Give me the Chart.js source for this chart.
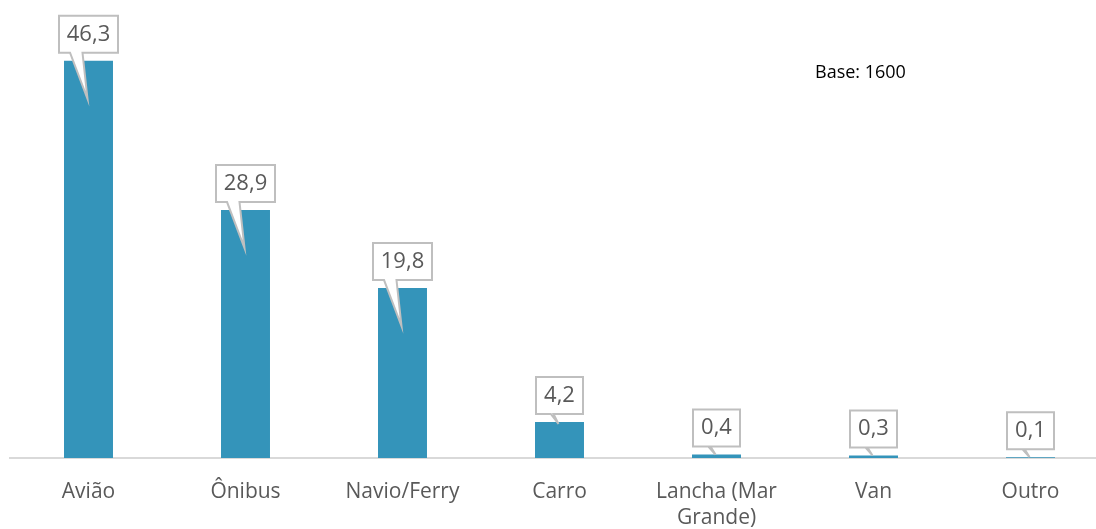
<!DOCTYPE html>
<html>
<head>
<meta charset="utf-8">
<script src="https://cdn.jsdelivr.net/npm/chart.js@4/dist/chart.umd.min.js"></script>
<style>
    body { margin: 0; overflow: hidden; background: #fff; }
    #wrap { position: relative; width: 1110px; height: 529px; }
    #base-note {
        position: absolute; left: 815px; top: 59px;
        font-family: "Open Sans", sans-serif; font-size: 18px; color: #000;
    }
</style>
</head>
<body>
<div id="wrap">
    <canvas id="transport-chart" width="1110" height="529"></canvas>
    <div id="base-note">Base: 1600</div>
</div>
<script>
const categories = ["Avião", "Ônibus", "Navio/Ferry", "Carro", ["Lancha (Mar", "Grande)"], "Van", "Outro"];
const percentages = [46.3, 28.9, 19.8, 4.2, 0.4, 0.3, 0.1];

const barColor = "#3494BA";
const textColor = "#595959";

function formatValue(v) {
    return v.toFixed(1).replace(".", ",");
}

// draws the excel-like callout boxes above each bar
const calloutPlugin = {
    id: "callouts",
    afterDatasetsDraw(chart) {
        const ctx = chart.ctx;
        const meta = chart.getDatasetMeta(0);
        ctx.save();
        ctx.font = "22px 'Open Sans', sans-serif";
        meta.data.forEach((bar, i) => {
            const text = formatValue(percentages[i]);
            const w = Math.round(ctx.measureText(text).width + 16);
            const h = 37;
            const x = bar.x;
            const top = bar.y;
            const bottom = top - 8;
            const left = x - w / 2;
            const right = x + w / 2;
            const depth = Math.min(38, Math.max(0, (bar.base - top) - 34));
            const tipY = top + depth;
            const len = tipY - bottom;
            const tailLeft = x - 6 - 13 * len / 48;

            ctx.beginPath();
            ctx.moveTo(left, bottom - h);
            ctx.lineTo(right, bottom - h);
            ctx.lineTo(right, bottom);
            ctx.lineTo(x - 6, bottom);
            ctx.lineTo(x - 1, tipY);
            ctx.lineTo(tailLeft, bottom);
            ctx.lineTo(left, bottom);
            ctx.closePath();
            ctx.fillStyle = "#ffffff";
            ctx.fill();
            ctx.lineWidth = 2;
            ctx.strokeStyle = "#bfbfbf";
            ctx.stroke();

            ctx.fillStyle = textColor;
            ctx.textAlign = "center";
            ctx.textBaseline = "middle";
            ctx.fillText(text, x, bottom - h / 2);
        });
        ctx.restore();
    }
};

new Chart(document.getElementById("transport-chart"), {
    type: "bar",
    data: {
        labels: categories,
        datasets: [{
            data: percentages,
            backgroundColor: barColor,
            categoryPercentage: 1,
            barPercentage: 0.312
        }]
    },
    options: {
        responsive: false,
        animation: false,
        layout: { padding: { top: 29, left: 10, right: 1, bottom: 0 } },
        plugins: {
            legend: { display: false },
            tooltip: { enabled: false }
        },
        scales: {
            x: {
                grid: { display: false },
                border: { display: true, color: "#d9d9d9", width: 2 },
                afterFit(scale) {
                    scale.height = 71;
                },
                ticks: {
                    color: textColor,
                    padding: 13,
                    maxRotation: 0,
                    autoSkip: false,
                    font: { family: "'Open Sans', sans-serif", size: 21, lineHeight: 1.25 }
                }
            },
            y: {
                display: false,
                min: 0,
                max: 50
            }
        }
    },
    plugins: [calloutPlugin]
});
</script>
</body>
</html>
